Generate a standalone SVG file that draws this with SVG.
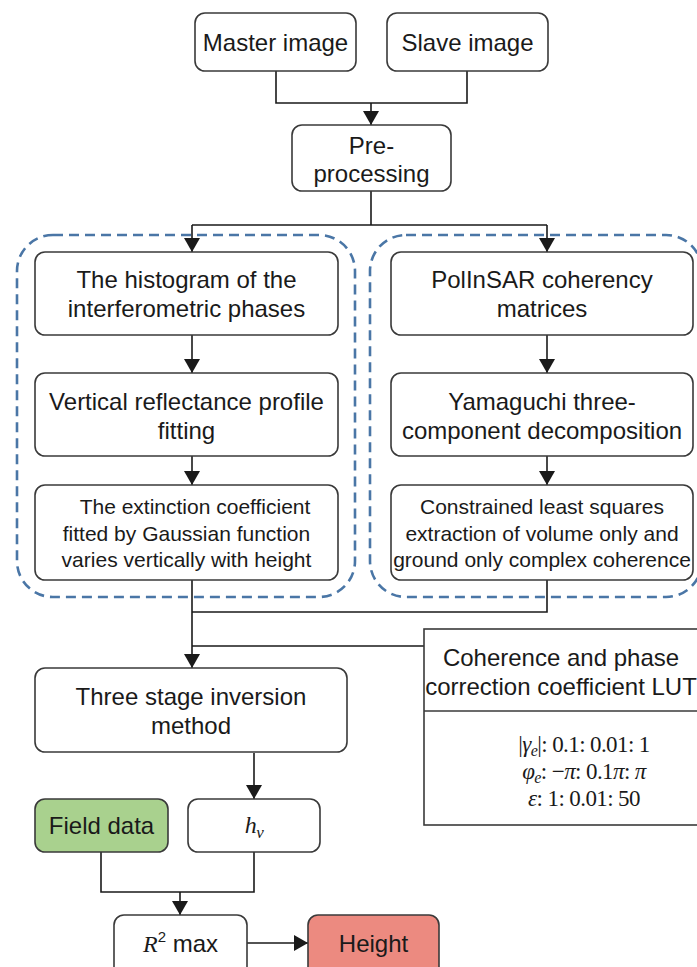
<svg xmlns="http://www.w3.org/2000/svg" width="697" height="967" viewBox="0 0 697 967">
<defs>
<marker id="ah" markerUnits="userSpaceOnUse" markerWidth="14" markerHeight="16" viewBox="0 0 14 16" refX="14" refY="8" orient="auto">
<path d="M0,0 L14,8 L0,16 Z" fill="#1a1a1a"/>
</marker>
<style>
.box{fill:#fff;stroke:#3a3a3a;stroke-width:1.6}
.grp{fill:none;stroke:#4a76a6;stroke-width:2.6;stroke-dasharray:10 6}
.t{font-family:"Liberation Sans",Arial,sans-serif;font-size:24px;fill:#1a1a1a;text-anchor:middle}
.s{font-size:21px}
.m{font-family:"Liberation Serif","Times New Roman",serif;font-size:23px;fill:#1a1a1a;text-anchor:middle;letter-spacing:-0.6px}
.c{fill:none;stroke:#1a1a1a;stroke-width:1.6}
.a{marker-end:url(#ah)}
</style>
</defs>
<rect width="697" height="967" fill="#fff"/>
<g id="groups">
<rect class="grp" x="17" y="235" width="338" height="362" rx="36"/>
<rect class="grp" x="370" y="235" width="332" height="362" rx="36"/>
</g>
<g id="connectors">
<path class="c" d="M276,71 V103 H467 V71"/>
<path class="c a" d="M371,103 V125"/>
<path class="c" d="M371,191 V225 M192,225 H547"/>
<path class="c a" d="M192,225 V252"/>
<path class="c a" d="M547,225 V252"/>
<path class="c a" d="M192,335 V373"/>
<path class="c a" d="M192,456 V485"/>
<path class="c a" d="M547,335 V373"/>
<path class="c a" d="M547,456 V485"/>
<path class="c" d="M547,580 V612 H192 M424,646 H192"/>
<path class="c a" d="M192,580 V668"/>
<path class="c a" d="M254,753 V799"/>
<path class="c" d="M101,852 V892 H254 V852"/>
<path class="c a" d="M180,892 V915"/>
<path class="c a" d="M247,943 H308"/>
</g>
<g id="master"><rect class="box" x="195" y="13" width="161" height="58" rx="10"/><text class="t" x="275.5" y="51">Master image</text></g>
<g id="slave"><rect class="box" x="387" y="13" width="161" height="58" rx="10"/><text class="t" x="467.5" y="51">Slave image</text></g>
<g id="preprocessing"><rect class="box" x="292" y="125" width="159" height="66" rx="10"/><text class="t" x="371.5" y="154">Pre-</text><text class="t" x="371.5" y="182">processing</text></g>
<g id="histogram"><rect class="box" x="35" y="252" width="303" height="83" rx="10"/><text class="t" x="186.5" y="288">The histogram of the</text><text class="t" x="186.5" y="317">interferometric phases</text></g>
<g id="profile"><rect class="box" x="35" y="373" width="303" height="83" rx="10"/><text class="t" x="186.5" y="410">Vertical reflectance profile</text><text class="t" x="186.5" y="439">fitting</text></g>
<g id="extinction"><rect class="box" x="35" y="485" width="303" height="95" rx="10"/><text class="t s" x="195" y="514">The extinction coefficient</text><text class="t s" x="186.5" y="541">fitted by Gaussian function</text><text class="t s" x="186.5" y="567">varies vertically with height</text></g>
<g id="polinsar"><rect class="box" x="391" y="252" width="302" height="83" rx="10"/><text class="t" x="542" y="288">PolInSAR coherency</text><text class="t" x="542" y="317">matrices</text></g>
<g id="yamaguchi"><rect class="box" x="391" y="373" width="302" height="83" rx="10"/><text class="t" x="542" y="410">Yamaguchi three-</text><text class="t" x="542" y="439">component decomposition</text></g>
<g id="leastsquares"><rect class="box" x="391" y="485" width="302" height="95" rx="10"/><text class="t s" x="542" y="514">Constrained least squares</text><text class="t s" x="542" y="541">extraction of volume only and</text><text class="t s" x="542" y="567">ground only complex coherence</text></g>
<g id="lut"><rect class="box" x="424" y="629" width="320" height="196" rx="0"/><line x1="424" y1="711" x2="744" y2="711" stroke="#3a3a3a" stroke-width="1.6"/><text class="t" x="561" y="666">Coherence and phase</text><text class="t" x="561" y="695">correction coefficient LUT</text>
<text class="m" x="584" y="752">|<tspan font-style="italic">γ</tspan><tspan font-style="italic" font-size="16" dy="4">e</tspan><tspan dy="-4">|: 0.1: 0.01: 1</tspan></text>
<text class="m" x="584" y="779"><tspan font-style="italic">φ</tspan><tspan font-style="italic" font-size="16" dy="4">e</tspan><tspan dy="-4">: −</tspan><tspan font-style="italic">π</tspan>: 0.1<tspan font-style="italic">π</tspan>: <tspan font-style="italic">π</tspan></text>
<text class="m" x="584" y="806"><tspan font-style="italic">ε</tspan>: 1: 0.01: 50</text></g>
<g id="threestage"><rect class="box" x="35" y="668" width="312" height="84" rx="10"/><text class="t" x="191" y="705">Three stage inversion</text><text class="t" x="191" y="734">method</text></g>
<g id="fielddata"><rect class="box" x="35" y="799" width="133" height="53" rx="10" style="fill:#a9d18e"/><text class="t" x="101.5" y="834">Field data</text></g>
<g id="hv"><rect class="box" x="188" y="799" width="132" height="53" rx="10"/><text class="m" x="254" y="833"><tspan font-style="italic" font-size="24">h</tspan><tspan font-style="italic" font-size="17" dy="5">v</tspan></text></g>
<g id="r2max"><rect class="box" x="114" y="915" width="133" height="62" rx="10"/><text class="t" x="180.5" y="952"><tspan font-family="Liberation Serif,serif" font-style="italic">R</tspan><tspan font-size="15" dy="-10">2</tspan><tspan dy="10"> max</tspan></text></g>
<g id="height"><rect class="box" x="308" y="915" width="131" height="62" rx="10" style="fill:#ec8a80"/><text class="t" x="373.5" y="952">Height</text></g>
</svg>
